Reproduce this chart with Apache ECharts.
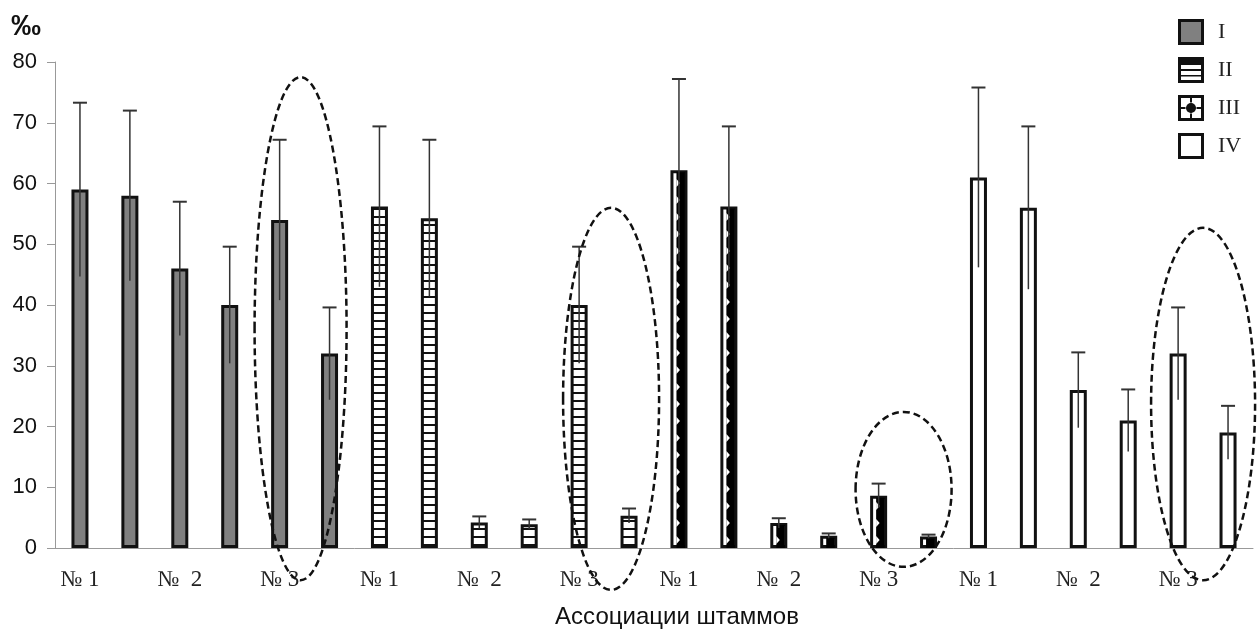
<!DOCTYPE html>
<html><head><meta charset="utf-8">
<script src="https://cdn.jsdelivr.net/npm/echarts@6/dist/echarts.min.js"></script>
<style>html,body{margin:0;padding:0;background:#fff}#c{width:1257px;height:633px}</style>
</head><body><div id="c"></div>
<script>
const groupNames = ['I', 'II', 'III', 'IV'];
const tickLabels = ['№ 1', '№  2', '№ 3'];
const valuesI = [59, 58, 46, 40, 54, 32];
const errI = [14.3, 14, 11, 9.6, 13.2, 7.6];
const valuesII = [56.2, 54.3, 4.2, 3.9, 40, 5.3];
const errII = [13.2, 12.9, 1.0, 0.8, 9.6, 1.2];
const valuesIII = [62.2, 56.2, 4.1, 2.0, 8.6, 1.9];
const errIII = [15, 13.2, 0.8, 0.4, 2.0, 0.3];
const valuesIV = [61, 56, 26, 21, 32, 19];
const errIV = [14.8, 13.4, 6.2, 5.1, 7.6, 4.4];
const yMin = 0, yMax = 80, yStep = 10;
const yTitle = '‰';
const xTitle = 'Ассоциации штаммов';
// dashed annotation ellipses: [first category index of the pair, top value, bottom value, x radius px, x shift px]
const ellipses = [[4, 77.5, -5.3, 46, -4], [10, 56, -6.9, 48, 7], [16, 22.4, -3.1, 48, 0], [22, 52.7, -5.3, 52, 0]];

const groupValues = [valuesI, valuesII, valuesIII, valuesIV];
const groupErr = [errI, errII, errIII, errIV];
const perGroup = valuesI.length;
const categories = [];
groupNames.forEach(function (g) { for (let k = 0; k < perGroup; k++) categories.push(g + '-' + k); });

function mk(w, h) { const c = document.createElement('canvas'); c.width = w; c.height = h; return c; }
// stripe pattern for group II
const stripe = mk(4, 8);
(function () { const g = stripe.getContext('2d'); g.fillStyle = '#fff'; g.fillRect(0, 0, 4, 8); g.fillStyle = '#111'; g.fillRect(0, 0, 4, 2); })();

function legendIcon(kind) {
  const c = mk(35, 26); const g = c.getContext('2d');
  g.fillStyle = kind === 0 ? '#808080' : '#fff'; g.fillRect(0, 0, 26, 26);
  g.fillStyle = '#111';
  if (kind === 1) { g.fillRect(2, 3, 22, 5); g.fillRect(2, 12, 22, 2); g.fillRect(2, 18, 22, 1.5); }
  if (kind === 2) {
    g.beginPath(); g.arc(13, 13, 5, 0, Math.PI * 2); g.fill();
    g.fillRect(3, 12, 4, 2); g.fillRect(19, 12, 4, 2); g.fillRect(12, 3, 2, 4); g.fillRect(12, 19, 2, 4);
    g.fillRect(3, 12.5, 20, 1); g.fillRect(12.5, 3, 1, 20);
  }
  g.strokeStyle = '#111'; g.lineWidth = 3; g.strokeRect(1.5, 1.5, 23, 23);
  return 'image://' + c.toDataURL();
}

const colors = ['#808080', { image: stripe, repeat: 'repeat' }, '#ffffff', '#ffffff'];
const barSeries = groupNames.map(function (name, gi) {
  const data = categories.map(function (_, i) {
    return Math.floor(i / perGroup) === gi ? groupValues[gi][i % perGroup] : '-';
  });
  return {
    name: name, type: 'bar', data: data, barWidth: 17, barGap: '-100%', z: 2,
    itemStyle: { color: colors[gi], borderColor: '#111', borderWidth: 3 }
  };
});

const errData = categories.map(function (_, i) {
  const gi = Math.floor(i / perGroup), k = i % perGroup;
  const v = groupValues[gi][k], e = groupErr[gi][k];
  return [i, v - e, v + e];
});
const patternIII = valuesIII.map(function (v, k) { return [2 * perGroup + k, v]; });

const chart = echarts.init(document.getElementById('c'), null, { renderer: 'canvas' });
const option = {
  animation: false,
  backgroundColor: '#fff',
  grid: { left: 55, right: 4, top: 62, bottom: 85, outerBoundsMode: 'none', containLabel: false },
  legend: {
    orient: 'vertical', left: 1178, top: 19, padding: 0, itemWidth: 35, itemHeight: 26, itemGap: 12,
    selectedMode: false,
    textStyle: { fontFamily: 'Liberation Serif', fontSize: 22, color: '#222' },
    data: groupNames.map(function (n, i) { return { name: n, icon: legendIcon(i) }; })
  },
  xAxis: {
    type: 'category', data: categories, boundaryGap: true,
    axisLine: { lineStyle: { color: '#999', width: 1 } },
    axisTick: { interval: 0, length: 5, lineStyle: { color: '#999' } },
    axisLabel: {
      interval: 0, margin: 20, fontFamily: 'Liberation Serif', fontSize: 23, color: '#222',
      formatter: function (v, i) { return i % 2 === 0 ? tickLabels[(i % perGroup) / 2] : ''; }
    }
  },
  yAxis: {
    type: 'value', min: yMin, max: yMax, interval: yStep,
    axisLine: { show: true, lineStyle: { color: '#999', width: 1 } },
    axisTick: { show: true, length: 8, lineStyle: { color: '#999' } },
    splitLine: { show: false },
    axisLabel: { margin: 18, fontFamily: 'Liberation Sans', fontSize: 22, color: '#111' }
  },
  series: barSeries.concat([
    {
      type: 'custom', name: 'patternIII', data: patternIII, z: 3, silent: true,
      encode: { x: 0, y: 1 },
      renderItem: function (params, api) {
        const idx = api.value(0), v = api.value(1);
        const top = api.coord([idx, v]), base = api.coord([idx, 0]);
        const cx = top[0];
        const x0 = cx - 2.5, x1 = cx + 6, yt = top[1] + 2, yb = base[1];
        const ch = [{ type: 'rect', shape: { x: x0, y: yt, width: x1 - x0, height: yb - yt }, style: { fill: '#000' } }];
        for (let y = yb - 4; y - 8 > yt; y -= 17) {
          ch.push({ type: 'polygon', shape: { points: [[x0, y], [x0, y - 8], [x0 + 3.5, y - 4]] }, style: { fill: '#fff' } });
        }
        return { type: 'group', children: ch };
      }
    },
    {
      type: 'custom', name: 'err', data: errData, z: 4, silent: true,
      encode: { x: 0, y: [1, 2] },
      renderItem: function (params, api) {
        const idx = api.value(0);
        const hi = api.coord([idx, api.value(2)]);
        const lo = api.coord([idx, api.value(1)]);
        return {
          type: 'group', children: [
            { type: 'line', shape: { x1: hi[0], y1: lo[1], x2: hi[0], y2: hi[1] }, style: { stroke: '#333', lineWidth: 1.5 } },
            { type: 'line', shape: { x1: hi[0] - 7, y1: hi[1], x2: hi[0] + 7, y2: hi[1] }, style: { stroke: '#333', lineWidth: 2 } }
          ]
        };
      }
    }
  ])
};
chart.setOption(option);

const gfx = ellipses.map(function (e) {
  const p1 = chart.convertToPixel({ xAxisIndex: 0, yAxisIndex: 0 }, [e[0], e[1]]);
  const p2 = chart.convertToPixel({ xAxisIndex: 0, yAxisIndex: 0 }, [e[0] + 1, e[2]]);
  return {
    type: 'ellipse', z: 100, silent: true,
    shape: { cx: (p1[0] + p2[0]) / 2 + e[4], cy: (p1[1] + p2[1]) / 2, rx: e[3], ry: (p2[1] - p1[1]) / 2 },
    style: { fill: 'none', stroke: '#111', lineWidth: 2.5, lineDash: [7, 4] }
  };
});
gfx.push({ type: 'text', x: 11, y: 27, z: 100, style: { text: yTitle, font: 'bold 30px "Liberation Sans"', fill: '#111', verticalAlign: 'middle' } });
gfx.push({ type: 'text', x: 677, y: 617, z: 100, style: { text: xTitle, font: '24px "Liberation Sans"', fill: '#111', align: 'center', verticalAlign: 'middle' } });
chart.setOption({ graphic: gfx });
</script></body></html>
